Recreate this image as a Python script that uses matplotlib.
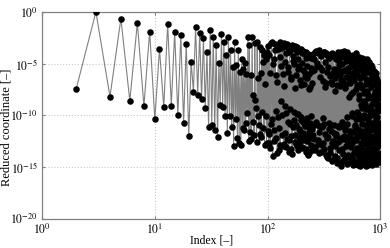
import numpy as np
import matplotlib
matplotlib.use('Agg')
import matplotlib.pyplot as plt
import matplotlib.ticker as ticker

plt.rcParams['font.family'] = ['Liberation Serif', 'DejaVu Serif']
plt.rcParams['mathtext.fontset'] = 'stix'

idx_a = np.arange(2, 45)
idx_b = np.arange(45, 101)
idx_c = np.arange(101, 250, 2)
idx_c2 = np.arange(102, 251, 2)
idx_d = np.arange(252, 1001, 4)
idx_d2 = np.arange(254, 999, 4)

# log10 of the reduced coordinate
logy_a = [-7.5, 0.0, -8.2, -0.65, -8.6, -1.06, -9.1, -1.9, -10.4, -3.6,
          -9.2, -1.16, -9.1, -1.9, -10.0, -2.25, -10.7, -3.1, -12.0, -4.8,
          -7.7, -1.42, -8.0, -2.06, -8.4, -2.54, -9.3, -3.83, -11.1, -1.74,
          -10.9, -2.39, -11.4, -3.19, -12.1, -4.9, -9.0, -2.13, -9.15, -2.87,
          -10.05, -4.15, -11.7]
logy_b = [-2.4, -10.1, -3.7, -11.1, -5.3, -13.0, -2.9, -10.4, -5.1, -12.2,
          -3.7, -12.7, -5.8, -12.85, -4.6, -11.2, -5.5, -11.4, -4.9, -10.75,
          -6.0, -9.8, -2.4, -12.5, -3.2, -11.6, -6.1, -12.3, -2.4, -10.6,
          -8.0, -11.9, -3.0, -8.5, -9.3, -12.6, -2.9, -10.1, -6.4, -10.9,
          -3.35, -11.8, -5.9, -12.05, -3.7, -9.7, -4.8, -11.2, -4.15, -12.9,
          -7.0, -10.1, -4.6, -12.7, -3.9, -11.5]
logy_c = [-3.3, -12.7, -5.9, -10.8, -2.9, -13.9, -4.6, -11.4, -3.1, -12.2,
          -6.8, -10.2, -3.6, -13.4, -2.9, -8.6, -5.2, -11.9, -3.4, -12.8,
          -7.2, -9.1, -4.0, -13.1, -3.1, -10.6, -5.8, -12.4, -3.3, -9.4,
          -6.3, -13.3, -3.2, -11.1, -4.7, -9.7, -3.5, -12.6, -7.4, -10.9,
          -3.4, -13.0, -5.5, -9.9, -3.7, -12.1, -6.6, -11.5, -3.6, -10.2,
          -4.9, -13.2, -3.8, -10.6, -7.0, -12.4, -4.1, -11.0, -5.9, -13.5,
          -3.9, -10.3, -6.4, -12.0, -4.4, -11.6, -7.5, -13.6, -4.2, -10.7,
          -5.4, -12.9, -4.3, -11.3, -6.9]
logy_c2 = [-11.8, -4.2, -13.2, -3.0, -10.4, -5.0, -12.5, -3.7, -9.6, -6.1,
           -13.6, -3.2, -11.2, -4.4, -12.9, -3.5, -10.0, -6.0, -13.0, -3.0,
           -11.7, -4.8, -9.8, -3.4, -12.3, -5.3, -13.5, -3.9, -10.8, -6.5,
           -12.0, -3.6, -13.7, -4.3, -10.5, -5.0, -11.9, -3.3, -12.8, -6.1,
           -9.9, -3.9, -13.4, -4.6, -11.3, -5.2, -12.6, -3.7, -10.5, -7.1,
           -13.1, -4.0, -11.7, -5.6, -12.2, -3.9, -10.9, -6.3, -13.3, -4.5,
           -10.7, -5.2, -12.5, -4.1, -13.8, -6.0, -11.2, -4.3, -12.2, -7.3,
           -10.1, -4.5, -13.4, -5.7, -11.0]
logy_d = [-4.1, -12.3, -5.6, -13.4, -3.8, -10.9, -4.9, -12.8, -3.7, -11.6,
          -5.3, -13.5, -4.2, -11.1, -6.7, -12.7, -3.9, -10.8, -7.3, -13.8,
          -4.0, -12.2, -5.8, -14.1, -4.5, -11.3, -6.2, -13.2, -4.1, -10.9,
          -7.0, -14.4, -4.3, -12.5, -5.5, -11.7, -7.6, -13.9, -4.6, -12.0,
          -6.0, -14.6, -3.9, -11.0, -5.1, -13.4, -7.2, -12.4, -4.4, -14.9,
          -6.6, -10.9, -4.0, -13.7, -5.7, -12.0, -3.8, -14.3, -7.4, -11.4,
          -4.7, -13.0, -6.3, -14.7, -3.9, -10.2, -5.4, -12.6, -8.2, -13.9,
          -4.2, -11.8, -6.9, -14.0, -4.8, -12.9, -5.9, -9.8, -4.3, -14.8,
          -7.7, -12.3, -4.5, -13.6, -6.1, -11.1, -4.3, -14.5, -5.3, -10.4,
          -4.0, -13.2, -7.1, -12.0, -4.6, -14.8, -5.6, -9.9, -8.0, -13.5,
          -4.4, -11.6, -6.4, -14.9, -5.0, -12.7, -9.0, -13.9, -4.5, -10.8,
          -7.4, -14.2, -5.2, -12.2, -6.0, -10.0, -4.6, -14.7, -8.6, -11.9,
          -4.7, -13.4, -5.8, -9.4, -7.0, -14.9, -4.6, -12.6, -6.6, -11.2,
          -5.0, -14.1, -8.0, -10.5, -4.8, -13.0, -6.8, -12.0, -5.4, -14.6,
          -9.2, -11.4, -5.1, -13.7, -7.3, -10.0, -5.6, -14.8, -6.2, -12.5,
          -5.3, -9.6, -8.4, -13.3, -5.9, -11.0, -7.0, -14.5, -5.7, -12.1,
          -6.5, -13.9, -9.8, -10.6, -5.9, -14.7, -7.6, -11.8, -6.3, -13.1,
          -8.8, -10.2, -6.6, -14.3, -7.3, -12.4, -10.8, -13.6, -7.0, -11.1,
          -8.1, -14.5, -7.4, -12.8, -9.4, -13.7, -7.6, -11.5]
logy_d2 = [-11.9, -4.6, -13.1, -3.9, -10.6, -5.2, -12.4, -4.0, -13.6, -6.3,
           -11.0, -4.3, -12.9, -5.6, -10.3, -3.9, -13.3, -4.8, -11.8, -6.9,
           -14.0, -4.2, -12.1, -5.3, -10.7, -4.4, -13.6, -6.8, -11.5, -4.0,
           -12.7, -5.9, -14.3, -4.2, -10.9, -6.4, -13.0, -4.5, -11.8, -7.1,
           -14.1, -4.1, -12.6, -5.5, -11.1, -4.8, -14.6, -6.1, -12.2, -3.9,
           -13.3, -5.0, -10.6, -6.8, -14.4, -4.3, -12.3, -5.6, -11.2, -4.1,
           -14.0, -7.0, -12.9, -4.5, -10.8, -5.8, -13.8, -4.1, -12.1, -6.4,
           -14.5, -4.4, -11.5, -5.2, -13.1, -7.9, -10.1, -4.6, -12.7, -5.9,
           -14.2, -4.2, -11.6, -6.6, -13.5, -4.8, -10.9, -5.4, -14.7, -7.5,
           -12.4, -4.4, -9.7, -6.1, -13.8, -4.9, -11.3, -8.4, -14.3, -5.3,
           -12.0, -4.6, -10.4, -7.0, -14.6, -5.5, -13.1, -9.3, -11.5, -4.9,
           -14.0, -6.2, -12.8, -4.7, -10.3, -7.8, -13.6, -5.2, -11.6, -8.9,
           -14.4, -5.0, -12.2, -6.5, -10.9, -5.4, -13.9, -7.6, -11.8, -4.9,
           -14.8, -5.8, -12.9, -8.3, -10.1, -5.3, -13.5, -6.6, -11.3, -9.6,
           -14.2, -5.6, -12.0, -7.1, -10.7, -5.7, -13.9, -8.9, -12.6, -6.0,
           -14.6, -6.4, -10.9, -8.1, -13.2, -5.8, -12.3, -9.9, -14.1, -6.5,
           -11.4, -7.7, -13.5, -6.1, -10.4, -8.6, -14.2, -6.8, -12.5, -9.1,
           -13.0, -7.2, -11.6, -8.0, -14.0, -6.9, -12.2, -9.6, -10.7, -7.5,
           -13.8, -8.3, -12.1, -7.8, -14.4, -9.0, -11.3]

index = np.concatenate([idx_a, idx_b, idx_c, idx_c2, idx_d, idx_d2])
logy = np.concatenate([logy_a, logy_b, logy_c, logy_c2, logy_d, logy_d2])
order = np.argsort(index, kind='stable')
index = index[order]
coord = 10.0 ** logy[order]

fig = plt.figure(figsize=(3.9, 2.48), dpi=100)
ax = fig.add_axes([0.108, 0.118, 0.867, 0.834])

ax.plot(index, coord, '-', color='#808080', lw=0.8, zorder=2)
ax.plot(index, coord, 'o', color='black', ms=4.7, mew=0, zorder=3)

ax.set_xscale('log')
ax.set_yscale('log')
ax.set_xlim(1, 1000)
ax.set_ylim(1e-20, 1)
ax.xaxis.set_major_locator(ticker.FixedLocator([1, 10, 100, 1000]))
ax.yaxis.set_major_locator(ticker.FixedLocator([1e-20, 1e-15, 1e-10, 1e-5, 1]))
ax.xaxis.set_minor_locator(ticker.NullLocator())
ax.yaxis.set_minor_locator(ticker.NullLocator())
fmt = ticker.FuncFormatter(lambda v, p: r'$10^{%d}$' % round(np.log10(v)))
ax.xaxis.set_major_formatter(fmt)
ax.yaxis.set_major_formatter(fmt)

ax.grid(True, which='major', color='#c8c8c8', ls=':', lw=0.8, zorder=0)
for s in ax.spines.values():
    s.set_color('#808080')
    s.set_linewidth(0.9)
ax.tick_params(which='both', direction='in', length=2, color='#808080',
               labelsize=8.5, top=True, right=True, pad=3)

ax.set_xlabel('Index [–]', fontsize=8.5)
ax.set_ylabel('Reduced coordinate [–]', fontsize=9)
ax.xaxis.set_label_coords(0.5, -0.075)
ax.yaxis.set_label_coords(-0.088, 0.44)

fig.savefig('out.png', dpi=100)
